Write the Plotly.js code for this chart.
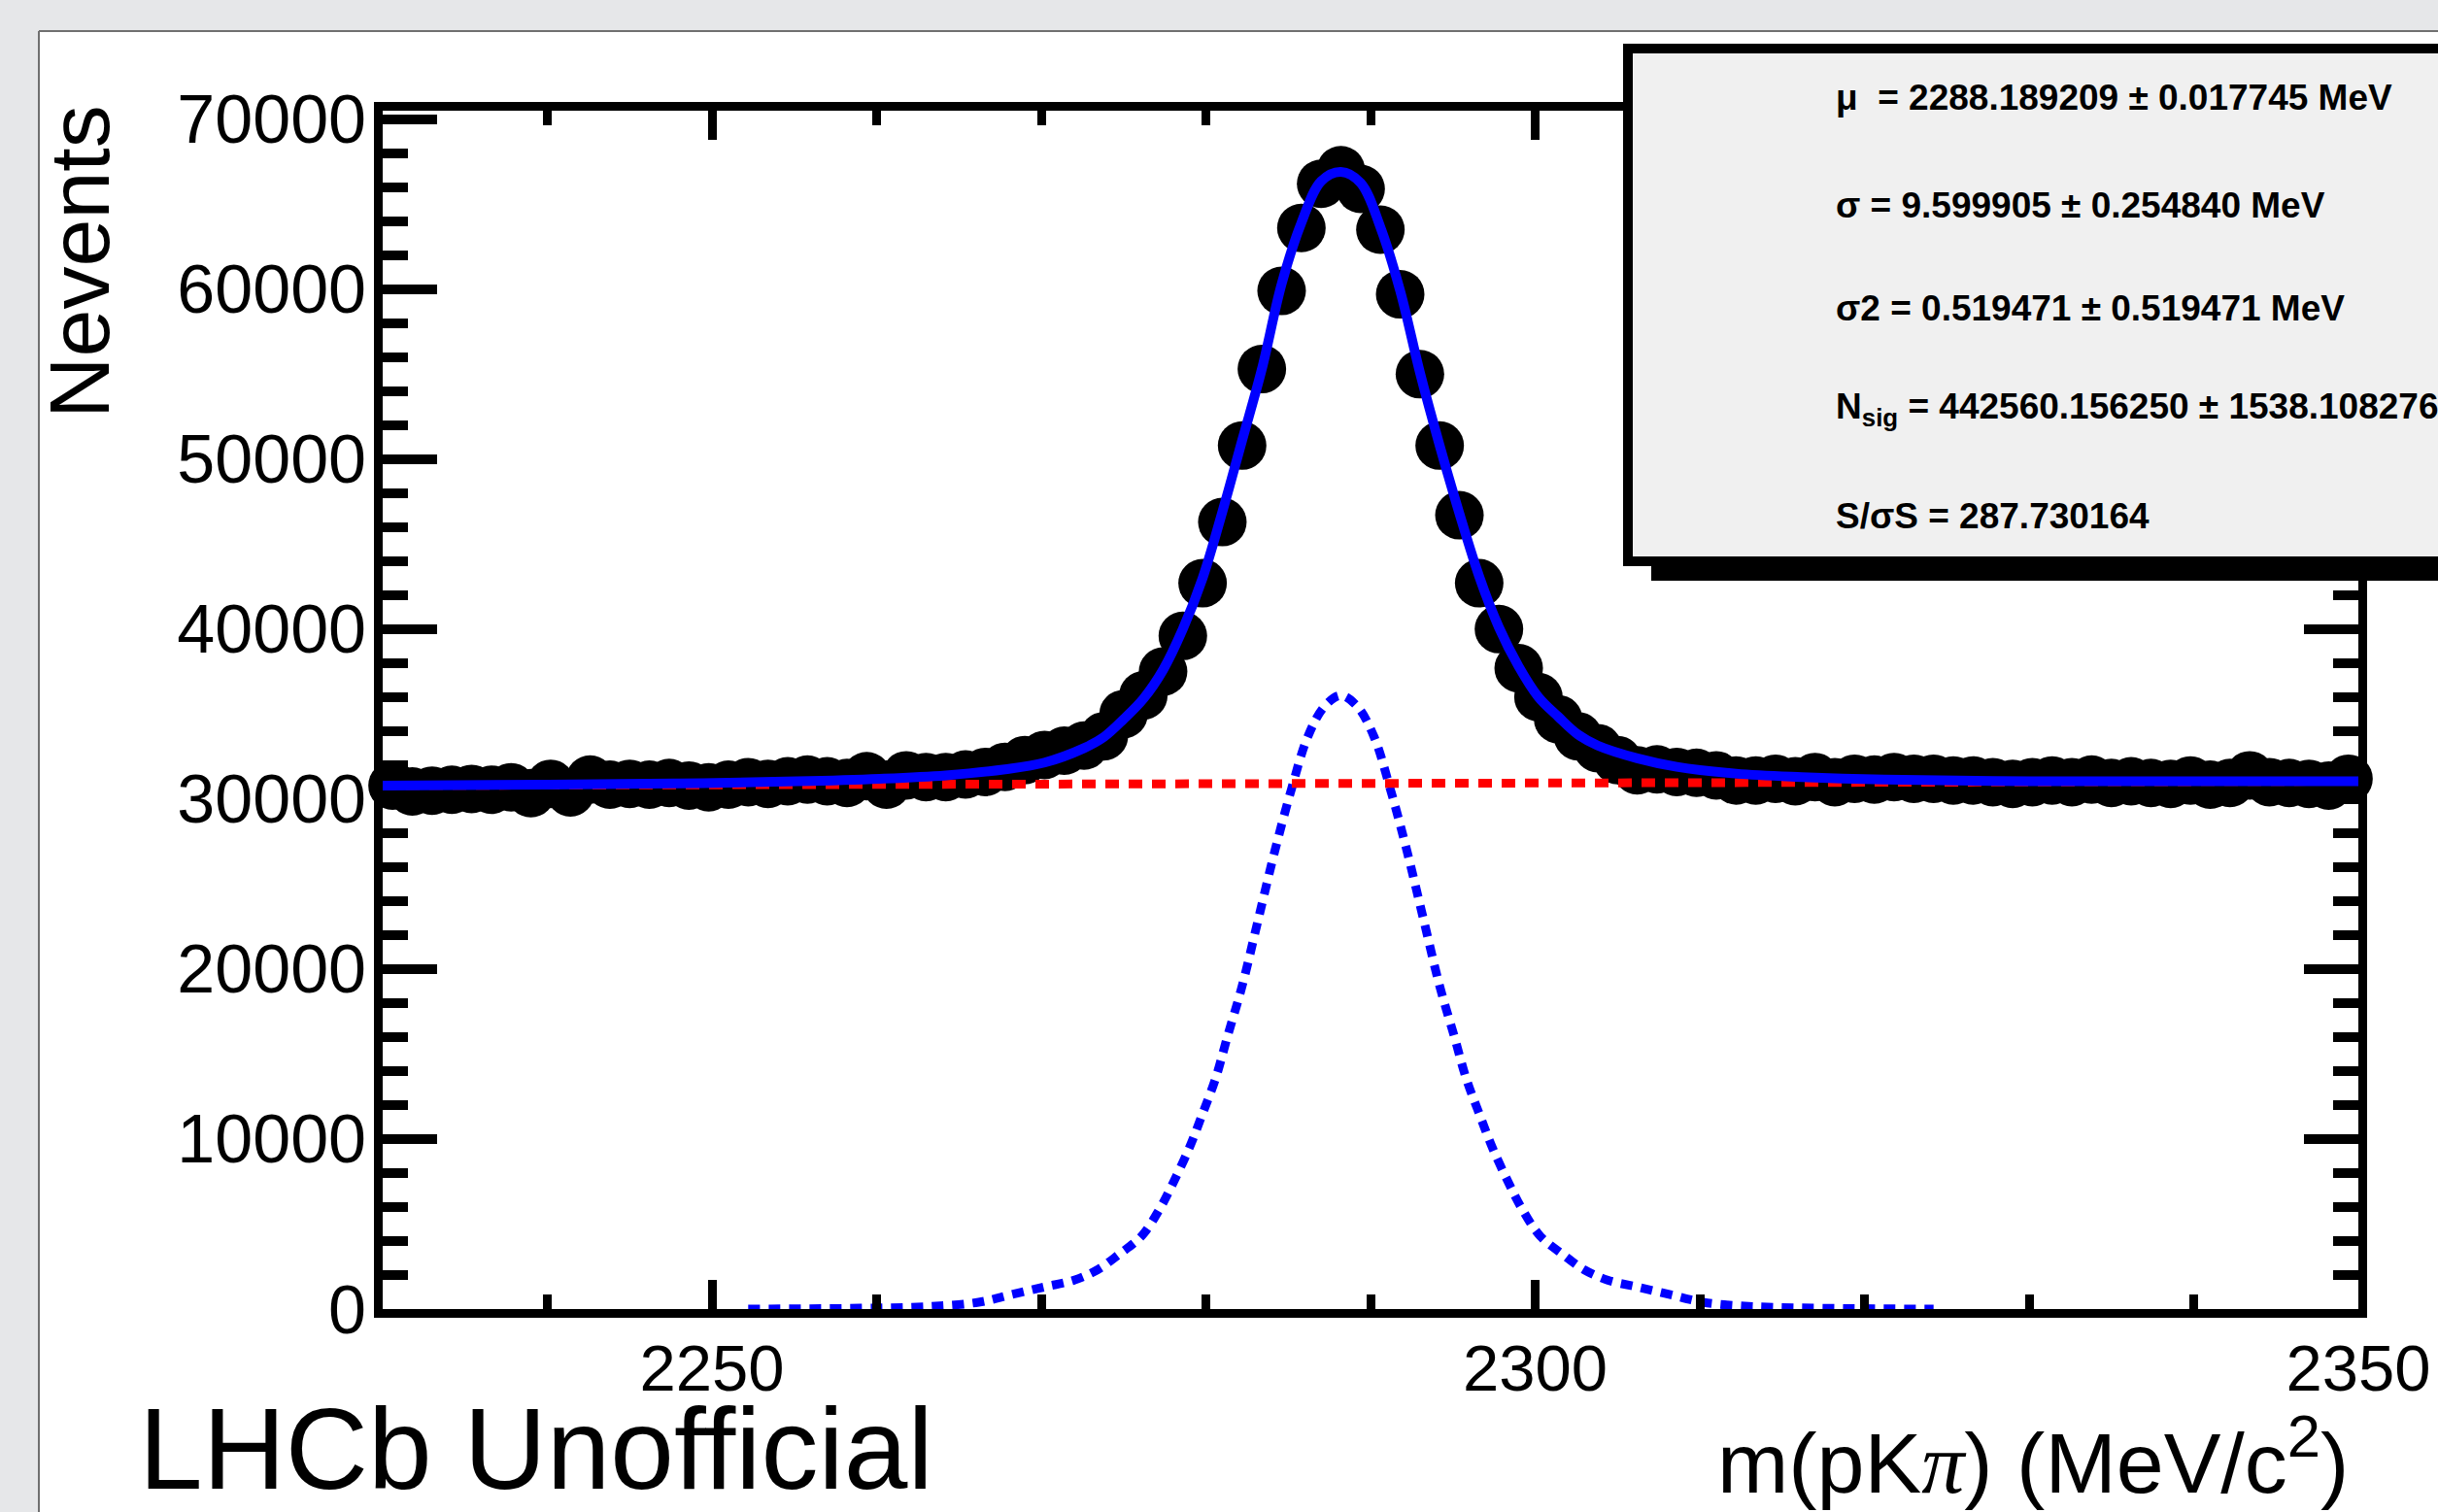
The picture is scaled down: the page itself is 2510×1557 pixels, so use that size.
<!DOCTYPE html>
<html>
<head>
<meta charset="utf-8">
<script src="https://cdn.plot.ly/plotly-3.0.1.min.js"></script>
<style>
html,body{margin:0;padding:0;background:#ffffff;}
#chart{width:2510px;height:1557px;}
</style>
</head>
<body>
<div id="chart"></div>
<script>
// ---------------- data ----------------
const binCenters = [2230.6, 2231.8, 2233.0, 2234.2, 2235.4, 2236.6, 2237.8, 2239.0, 2240.2, 2241.4,
  2242.6, 2243.8, 2245.0, 2246.2, 2247.4, 2248.6, 2249.8, 2251.0, 2252.2, 2253.4,
  2254.6, 2255.8, 2257.0, 2258.2, 2259.4, 2260.6, 2261.8, 2263.0, 2264.2, 2265.4,
  2266.6, 2267.8, 2269.0, 2270.2, 2271.4, 2272.6, 2273.8, 2275.0, 2276.2, 2277.4,
  2278.6, 2279.8, 2281.0, 2282.2, 2283.4, 2284.6, 2285.8, 2287.0, 2288.2, 2289.4,
  2290.6, 2291.8, 2293.0, 2294.2, 2295.4, 2296.6, 2297.8, 2299.0, 2300.2, 2301.4,
  2302.6, 2303.8, 2305.0, 2306.2, 2307.4, 2308.6, 2309.8, 2311.0, 2312.2, 2313.4,
  2314.6, 2315.8, 2317.0, 2318.2, 2319.4, 2320.6, 2321.8, 2323.0, 2324.2, 2325.4,
  2326.6, 2327.8, 2329.0, 2330.2, 2331.4, 2332.6, 2333.8, 2335.0, 2336.2, 2337.4,
  2338.6, 2339.8, 2341.0, 2342.2, 2343.4, 2344.6, 2345.8, 2347.0, 2348.2, 2349.4];

const nEvents = [30800, 30450, 30500, 30550, 30600, 30550, 30700, 30350, 30900, 30400,
  31150, 30850, 30900, 30850, 30950, 30800, 30700, 30850, 31000, 30900,
  31050, 31150, 31050, 30950, 31350, 30850, 31400, 31300, 31300, 31450,
  31600, 31900, 32300, 32600, 32850, 33150, 33700, 35000, 36100, 37500,
  39600, 42700, 46300, 50800, 55300, 59900, 63600, 66200, 67000, 65900,
  63500, 59700, 55000, 50800, 46700, 42700, 40000, 37700, 36000, 34700,
  33700, 33000, 32300, 31700, 31750, 31600, 31550, 31400, 31100, 31100,
  31200, 31050, 31300, 31000, 31200, 31150, 31300, 31200, 31200, 31100,
  31100, 31000, 30900, 31000, 31100, 31000, 31150, 30950, 31050, 30950,
  30900, 31100, 30850, 30950, 31400, 31000, 30950, 30900, 30800, 31200];

const fitX = [2230, 2240, 2248, 2255.2, 2260.2, 2264.2, 2267.8, 2270.2, 2272.6, 2273.8,
  2275.0, 2276.2, 2277.4, 2278.6, 2279.8, 2281.0, 2282.2, 2283.4, 2284.6, 2285.8,
  2287.0, 2288.2, 2289.4, 2290.6, 2291.8, 2293.0, 2294.2, 2295.4, 2296.6, 2297.8,
  2299.0, 2300.2, 2301.4, 2302.6, 2303.8, 2306.2, 2308.6, 2312.2, 2316.2, 2321.2,
  2330, 2340, 2350];
const fitY = [30800, 30850, 30920, 31050, 31200, 31400, 31750, 32150, 33000, 33650,
  34700, 35900, 37600, 40000, 43000, 46900, 51100, 55300, 60300, 63900,
  66350, 66900, 66250, 63650, 59900, 55100, 50800, 46800, 43100, 40100,
  37800, 36000, 34850, 33800, 33150, 32400, 31900, 31500, 31300, 31150,
  31050, 31050, 31050];

const sigX = [2252.2, 2258.2, 2263.2, 2266.2, 2268.2, 2270.2, 2272.0, 2273.4, 2274.7,
  2276.1, 2277.2, 2278.0, 2279.0, 2279.8, 2280.6, 2281.3, 2282.2, 2283.2, 2284.2,
  2285.2, 2286.2, 2287.2, 2288.2, 2289.2, 2290.2, 2291.2, 2292.2, 2293.2, 2294.2,
  2295.1, 2295.8, 2296.6, 2297.4, 2298.4, 2299.2, 2300.3, 2301.7, 2303.0, 2304.4,
  2306.2, 2308.2, 2310.2, 2313.2, 2318.2, 2324.2];
const sigY = [0, 40, 150, 400, 850, 1300, 1700, 2300, 3200,
  4300, 5900, 7400, 9500, 11500, 13600, 16000, 19000, 23000, 27000,
  30600, 33700, 35450, 36100, 35450, 33700, 30600, 27000, 23000, 19000,
  16000, 13600, 11500, 9500, 7400, 5900, 4300, 3200, 2300, 1700,
  1300, 850, 400, 150, 40, 0];

const bkgX = [2230, 2350];
const bkgY = [30800, 31050];

const statsLines = [
  "μ  = 2288.189209 ± 0.017745 MeV",
  "σ = 9.599905 ± 0.254840 MeV",
  "σ2 = 0.519471 ± 0.519471 MeV",
  "N<sub>sig</sub> = 442560.156250 ± 1538.108276",
  "S/σS = 287.730164"
];

const xTitle = "m(pK<span style=\"font-family:'Liberation Serif';font-style:italic\">π</span>) (MeV/c<sup>2</sup>)";
const yTitle = "Nevents";
const label = "LHCb Unofficial";

// ---------------- layout helpers ----------------
const W = 2510, H = 1557;
const L = 394, R = 2428, T = 114, B = 1348;
function px(x) { return (x - L) / (R - L); }
function py(y) { return (B - y) / (B - T); }
const FONT = "'Liberation Sans', Arial, Helvetica, sans-serif";

const traces = [
  { x: binCenters, y: nEvents, type: 'scatter', mode: 'markers',
    marker: { color: '#000000', size: 50, line: { width: 0 } }, cliponaxis: false, hoverinfo: 'skip' },
  { x: sigX, y: sigY, type: 'scatter', mode: 'lines',
    line: { color: '#0000ff', width: 9, dash: '12px,9px', shape: 'spline', smoothing: 1 }, hoverinfo: 'skip' },
  { x: bkgX, y: bkgY, type: 'scatter', mode: 'lines',
    line: { color: '#ff0000', width: 9, dash: '14px,10px' }, hoverinfo: 'skip' },
  { x: fitX, y: fitY, type: 'scatter', mode: 'lines',
    line: { color: '#0000ff', width: 10, shape: 'spline', smoothing: 1 }, hoverinfo: 'skip' }
];

const statsY = [100, 211, 317, 421, 531];
const annotations = [
  { text: yTitle, xref: 'paper', yref: 'paper', x: px(81), y: py(270), textangle: -90,
    xanchor: 'center', yanchor: 'middle', showarrow: false, font: { family: FONT, size: 88, color: '#000' } },
  { text: xTitle, xref: 'paper', yref: 'paper', x: px(2420), y: py(1500),
    xanchor: 'right', yanchor: 'middle', showarrow: false, font: { family: FONT, size: 88, color: '#000' } },
  { text: label, xref: 'paper', yref: 'paper', x: px(141), y: py(1492),
    xanchor: 'left', yanchor: 'middle', showarrow: false, font: { family: FONT, size: 118, color: '#000' } }
];
statsLines.forEach(function (s, i) {
  annotations.push({ text: '<b>' + s + '</b>', xref: 'paper', yref: 'paper', x: px(1888), y: py(statsY[i]),
    xanchor: 'left', yanchor: 'middle', showarrow: false, font: { family: FONT, size: 37, color: '#000' } });
});

const shapes = [
  // window frame (grey strips)
  { type: 'rect', xref: 'paper', yref: 'paper', x0: px(-20), x1: px(2600), y0: py(32), y1: py(-20),
    fillcolor: '#e6e7e9', line: { width: 0 }, layer: 'below' },
  { type: 'rect', xref: 'paper', yref: 'paper', x0: px(-20), x1: px(40), y0: py(1600), y1: py(32),
    fillcolor: '#e6e7e9', line: { width: 0 }, layer: 'below' },
  { type: 'line', xref: 'paper', yref: 'paper', x0: px(40), x1: px(2600), y0: py(32), y1: py(32),
    line: { color: '#707070', width: 2 }, layer: 'below' },
  { type: 'line', xref: 'paper', yref: 'paper', x0: px(40), x1: px(40), y0: py(32), y1: py(1600),
    line: { color: '#707070', width: 2 }, layer: 'below' },
  // stats box shadow + box
  { type: 'rect', xref: 'paper', yref: 'paper', x0: px(1700), x1: px(2700), y0: py(598), y1: py(560),
    fillcolor: '#000000', line: { width: 0 }, layer: 'above' },
  { type: 'rect', xref: 'paper', yref: 'paper', x0: px(1676), x1: px(2700), y0: py(578), y1: py(50),
    fillcolor: '#f0f0f0', line: { color: '#000000', width: 10 }, layer: 'above' }
];

const layout = {
  width: W, height: H,
  margin: { l: L, r: W - R, t: T, b: H - B, pad: 0 },
  paper_bgcolor: '#ffffff', plot_bgcolor: '#ffffff',
  showlegend: false,
  font: { family: FONT, color: '#000' },
  xaxis: {
    range: [2230, 2350], tick0: 2200, dtick: 50, tickformat: 'd',
    ticks: 'inside', ticklen: 30, tickwidth: 9, tickcolor: '#000',
    minor: { dtick: 10, ticks: 'inside', ticklen: 15, tickwidth: 9, tickcolor: '#000' },
    showline: true, linewidth: 9, linecolor: '#000', mirror: 'ticks',
    showgrid: false, zeroline: false, ticklabelstandoff: -5,
    tickfont: { family: FONT, size: 67, color: '#000' }
  },
  yaxis: {
    range: [0, 70500], tick0: 0, dtick: 10000, tickformat: 'd', exponentformat: 'none',
    ticks: 'inside', ticklen: 56, tickwidth: 10, tickcolor: '#000',
    minor: { dtick: 2000, ticks: 'inside', ticklen: 26, tickwidth: 10, tickcolor: '#000' },
    showline: true, linewidth: 9, linecolor: '#000', mirror: 'ticks',
    showgrid: false, zeroline: false, ticklabelstandoff: -6,
    tickfont: { family: FONT, size: 70, color: '#000' }
  },
  shapes: shapes,
  annotations: annotations
};

Plotly.newPlot('chart', traces, layout, { displayModeBar: false, staticPlot: true });
</script>
</body>
</html>
